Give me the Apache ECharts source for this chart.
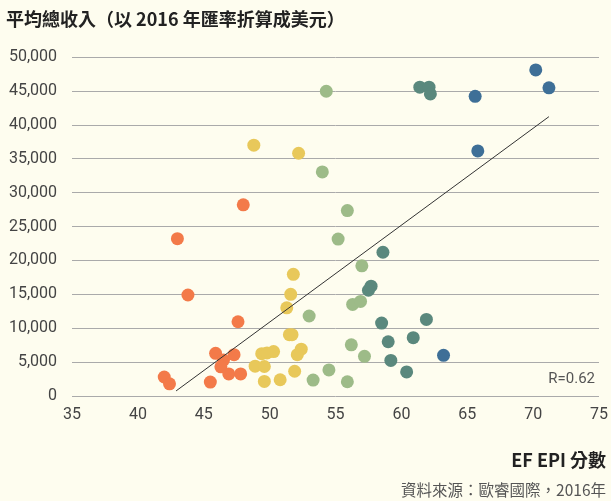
<!DOCTYPE html>
<html>
<head>
<meta charset="utf-8">
<script src="https://cdn.jsdelivr.net/npm/echarts@6/dist/echarts.min.js"></script>
<style>
    html, body { margin: 0; padding: 0; background: #fefdef; }
    #chart { width: 611px; height: 501px; }
</style>
</head>
<body>
<div id="chart"></div>
<script>
// EF EPI 分數 vs 平均總收入, 每個顏色一組
const orangeX = [42.0, 42.4, 45.5, 48.0, 43.0, 43.8, 47.6, 45.9, 47.3, 46.5, 46.3, 46.9, 47.8]
const orangeY = [2800, 1800, 2050, 28200, 23200, 14900, 10950, 6300, 6100, 5300, 4300, 3250, 3250]

const yellowX = [48.8, 52.2, 51.8, 51.6, 51.3, 51.5, 51.7, 52.4, 52.1, 49.4, 49.8, 50.3, 48.9, 49.6, 49.6, 50.8, 51.9]
const yellowY = [37000, 35800, 17950, 15000, 13000, 9050, 9050, 6900, 6100, 6250, 6350, 6550, 4400, 4350, 2150, 2400, 3650]

const greenX = [54.3, 54.0, 55.9, 55.2, 57.0, 56.3, 56.9, 53.0, 56.2, 57.2, 54.5, 53.3, 55.9]
const greenY = [44950, 33050, 27350, 23150, 19200, 13500, 13950, 11800, 7550, 5850, 3850, 2350, 2100]

const tealX = [61.4, 62.1, 62.2, 58.6, 57.7, 57.5, 58.5, 61.9, 59.0, 60.9, 59.2, 60.4]
const tealY = [45550, 45550, 44550, 21200, 16200, 15600, 10750, 11300, 8000, 8600, 5250, 3550]

const blueX = [70.2, 71.2, 65.6, 65.8, 63.2]
const blueY = [48100, 45450, 44200, 36150, 6000]

// 回歸線兩端
const trendX = [42.9, 71.2]
const trendY = [750, 41200]

const xTicks = [35, 40, 45, 50, 55, 60, 65, 70, 75]

const zip = (xs, ys) => xs.map((x, i) => [x, ys[i]])

onload = () => {
    let chart = echarts.init(document.getElementById('chart'))

    const dot = (name, xs, ys, color) => ({
        name: name,
        type: 'scatter',
        symbolSize: 13,
        itemStyle: { color: color, opacity: 1 },
        data: zip(xs, ys),
        z: 3
    })

    let options = {
        backgroundColor: '#fefdef',
        animation: false,
        textStyle: { fontFamily: 'Roboto, "Noto Sans CJK TC", sans-serif' },
        title: [
            {
                text: '平均總收入（以 2016 年匯率折算成美元）',
                left: 1, top: 5,
                textStyle: { fontFamily: '"Noto Sans CJK TC"', fontSize: 18, fontWeight: 'bold', color: '#222' }
            },
            {
                text: 'EF EPI 分數',
                right: 0, top: 446,
                textStyle: { fontFamily: '"Noto Sans CJK TC"', fontSize: 18, fontWeight: 'bold', color: '#222' }
            },
            {
                text: '資料來源：歐睿國際，2016年',
                right: 0, top: 477,
                textStyle: { fontFamily: '"Noto Sans CJK TC"', fontSize: 15.5, fontWeight: 'normal', color: '#555' }
            },
            {
                text: 'R=0.62',
                right: 11, top: 367,
                textStyle: { fontFamily: 'Roboto', fontSize: 15, fontWeight: 'normal', color: '#555' }
            }
        ],
        grid: { left: 72, right: 12, top: 57, bottom: 105 },
        xAxis: {
            type: 'value',
            min: 35, max: 75, interval: 5,
            axisLine: { show: false },
            axisTick: { show: false },
            splitLine: { show: false },
            axisLabel: {
                margin: 11, fontSize: 16, color: '#444',
                formatter: v => xTicks.includes(v) ? String(v) : ''
            }
        },
        yAxis: {
            type: 'value',
            min: 0, max: 50000, interval: 5000,
            axisLine: { show: false },
            axisTick: { show: false },
            splitLine: { lineStyle: { color: '#aaa', width: 1 } },
            axisLabel: {
                margin: 15, fontSize: 16, color: '#444',
                formatter: v => v.toLocaleString('en-US')
            }
        },
        series: [
            dot('orange', orangeX, orangeY, '#f37a49'),
            dot('yellow', yellowX, yellowY, '#e8c85a'),
            dot('green', greenX, greenY, '#9dbb88'),
            dot('teal', tealX, tealY, '#5a887d'),
            dot('blue', blueX, blueY, '#3e6f97'),
            {
                type: 'line',
                data: zip(trendX, trendY),
                symbol: 'none',
                lineStyle: { color: '#333', width: 1 },
                z: 4
            }
        ]
    }

    chart.setOption(options)
}
</script>
</body>
</html>
